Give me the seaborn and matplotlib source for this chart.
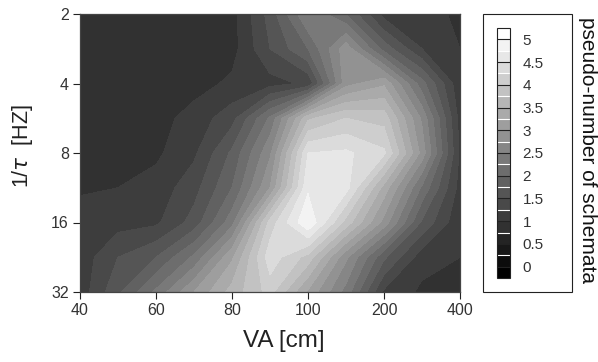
import numpy as np
import matplotlib
matplotlib.use('Agg')
import matplotlib.pyplot as plt
import seaborn as sns
from matplotlib.patches import Rectangle

# grid nodes on the (evenly spaced) category axes, half steps between ticks
va_pos = [0, 0.5, 1, 1.5, 2, 2.5, 3, 3.5, 4, 4.5, 5]
tau_pos = [0, 0.5, 1, 1.5, 2, 2.5, 3, 3.5, 4]
va_ticks = ['40', '60', '80', '100', '200', '400']
tau_ticks = ['2', '4', '8', '16', '32']

# pseudo-number of schemata, rows = 1/tau (2 -> 32), cols = VA (40 -> 400)
schemata = [
    [0.90, 0.90, 0.90, 0.90, 0.90, 1.60, 2.50, 2.00, 1.15, 1.10, 0.95],
    [0.90, 0.90, 0.90, 0.90, 0.90, 1.50, 2.00, 2.90, 1.90, 1.25, 1.00],
    [0.90, 0.90, 0.90, 0.90, 1.05, 1.15, 1.30, 2.90, 3.20, 2.10, 1.05],
    [0.90, 0.90, 0.90, 1.10, 1.40, 2.30, 3.70, 4.00, 3.90, 2.70, 1.15],
    [0.90, 0.90, 0.95, 1.20, 1.80, 2.70, 4.50, 4.55, 4.30, 2.90, 1.20],
    [0.97, 1.00, 1.10, 1.40, 2.00, 3.00, 4.70, 4.60, 3.40, 2.20, 1.15],
    [1.10, 1.15, 1.20, 1.60, 2.40, 4.10, 4.98, 3.90, 2.90, 1.70, 1.05],
    [1.10, 1.50, 1.75, 2.30, 3.20, 4.40, 3.90, 2.80, 1.80, 1.10, 1.00],
    [1.10, 1.70, 2.30, 3.00, 3.60, 4.10, 3.20, 2.40, 1.20, 0.95, 0.95],
]

levels = np.arange(-0.25, 5.5, 0.25)
cbar_ticks = np.arange(0, 5.01, 0.5)
cbar_labels = ['0', '0.5', '1', '1.5', '2', '2.5', '3', '3.5', '4', '4.5', '5']

sns.set_style('ticks')
plt.rcParams['font.family'] = ['Liberation Sans', 'DejaVu Sans']

fig = plt.figure(figsize=(5.98, 3.62), dpi=100)
ax = fig.add_axes([80 / 598, 1 - 292 / 362, 380 / 598, 278 / 362])

grays = [str(g) for g in np.linspace(0, 1, len(levels) - 1)]
cs = ax.contourf(va_pos, tau_pos, np.array(schemata), levels=levels, colors=grays)

ax.set_xlim(0, 5)
ax.set_ylim(4, 0)
ax.set_xticks(range(len(va_ticks)))
ax.set_xticklabels(va_ticks)
ax.set_yticks(range(len(tau_ticks)))
ax.set_yticklabels(tau_ticks)
ax.tick_params(direction='out', length=5, width=0.8, color='#222',
               labelsize=11.5, labelcolor='#333', pad=3)
for sp in ax.spines.values():
    sp.set_color('#444')
    sp.set_linewidth(0.9)

fig.text(0.037, 0.597, r'1/$\tau$  [HZ]', rotation=90, ha='center', va='center',
         fontsize=15.5, color='#222')
fig.text(0.474, 0.057, 'VA [cm]', ha='center', va='center', fontsize=17.5, color='#222')

# colorbar with its frame
cax = fig.add_axes([497 / 598, 1 - 278 / 362, 13 / 598, 250 / 362])
cb = fig.colorbar(cs, cax=cax, ticks=cbar_ticks)
cb.set_ticklabels(cbar_labels)
cb.ax.tick_params(length=0, labelsize=11, labelcolor='#333', pad=9)
cb.outline.set_edgecolor('#222')
cb.outline.set_linewidth(0.8)
for v in levels[1:-1]:
    if abs(v * 2 - round(v * 2)) < 1e-6:
        cax.axhline(v, color='#222', lw=0.8)
    else:
        cax.axhline(v, color='white', lw=0.8)

fig.add_artist(Rectangle((483 / 598, 1 - 292 / 362), 89 / 598, 278 / 362,
                         transform=fig.transFigure, fill=False, ec='#222', lw=0.8))
fig.text(0.983, 0.585, 'pseudo-number of schemata', rotation=270, ha='center',
         va='center', fontsize=15, color='#111')

fig.savefig('out.png', dpi=100)
